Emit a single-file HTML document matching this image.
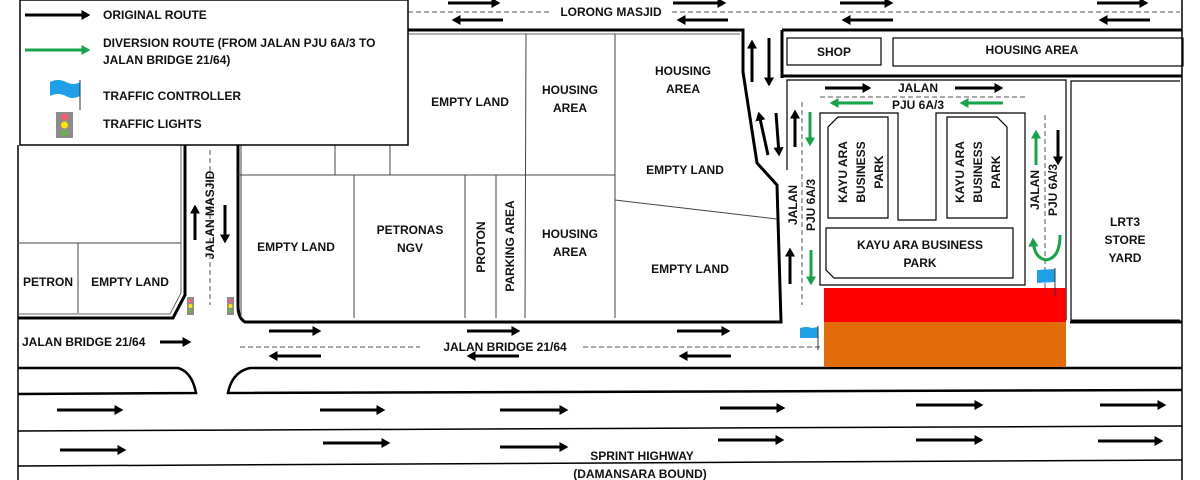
<!DOCTYPE html>
<html><head><meta charset="utf-8"><style>
html,body{margin:0;padding:0;background:#fff;}
svg{display:block;}
text{font-family:"Liberation Sans",sans-serif;font-weight:bold;font-size:12px;fill:#111;}
</style></head><body>
<svg width="1200" height="480" viewBox="0 0 1200 480" xmlns="http://www.w3.org/2000/svg">
<defs>
<marker id="ab" markerWidth="4" markerHeight="4" refX="2.2" refY="2" orient="auto" markerUnits="strokeWidth"><path d="M0,0.3 L3,2 L0,3.7 Z" fill="#000"/></marker>
<marker id="ag" markerWidth="4" markerHeight="4" refX="2.2" refY="2" orient="auto" markerUnits="strokeWidth"><path d="M0,0.3 L3,2 L0,3.7 Z" fill="#16a34a"/></marker>
</defs>
<g fill="none" stroke="#000">
<!-- frame -->
<line x1="18" y1="145" x2="18" y2="480" stroke-width="1.5"/>
<line x1="1182" y1="0" x2="1182" y2="480" stroke-width="1.5"/>
<!-- top road dashed -->
<line x1="408" y1="12" x2="550" y2="12" stroke-dasharray="5,3" stroke="#555"/>
<line x1="672" y1="12" x2="1180" y2="12" stroke-dasharray="5,3" stroke="#555"/>
<!-- main block -->
<path d="M408,30 L743,30 L743,72 L757,163 L777,185 L781,322 L245,322 Q238,318 238,306 L238,145" stroke-width="3"/>
<path d="M408,34 L740,34" stroke-width="1" stroke="#666"/>
<line x1="238" y1="175" x2="615" y2="175" stroke-width="1" stroke="#444"/>
<line x1="335" y1="145" x2="335" y2="175" stroke-width="1" stroke="#444"/>
<line x1="390" y1="145" x2="390" y2="175" stroke-width="1" stroke="#444"/>
<line x1="526" y1="34" x2="525" y2="318" stroke-width="1" stroke="#444"/>
<line x1="615" y1="34" x2="615" y2="318" stroke-width="1" stroke="#444"/>
<line x1="354" y1="175" x2="354" y2="318" stroke-width="1" stroke="#444"/>
<line x1="465" y1="175" x2="465" y2="318" stroke-width="1" stroke="#444"/>
<line x1="496" y1="175" x2="496" y2="318" stroke-width="1" stroke="#444"/>
<line x1="615" y1="200" x2="777" y2="219" stroke-width="1" stroke="#444"/>
<line x1="241" y1="145" x2="241" y2="318" stroke-width="1" stroke="#444"/>
<!-- left block -->
<path d="M18,318 L173,318 L185,295 L185,145" stroke-width="3"/>
<path d="M18,314 L170,314 L181,293 L181,145" stroke-width="1" stroke="#666"/>
<line x1="18" y1="243" x2="181" y2="243" stroke-width="1" stroke="#444"/>
<line x1="78" y1="243" x2="78" y2="313" stroke-width="1" stroke="#444"/>
<line x1="210" y1="150" x2="210" y2="305" stroke-dasharray="5,3" stroke="#555"/>
<!-- Jalan Bridge road -->
<line x1="781" y1="322" x2="781" y2="322"/>
<line x1="1070" y1="322" x2="1182" y2="322" stroke-width="3"/>
<line x1="240" y1="347" x2="420" y2="347" stroke-dasharray="5,3" stroke="#555"/>
<line x1="583" y1="347" x2="822" y2="347" stroke-dasharray="5,3" stroke="#555"/>
<path d="M18,368 L178,368 Q192,372 196,393 L18,394" stroke-width="2.5"/>
<path d="M1182,368 L250,368 Q232,372 228,393 L1182,390" stroke-width="2.5"/>
<line x1="18" y1="431" x2="1182" y2="426" stroke-width="1.5"/>
<line x1="18" y1="466" x2="1182" y2="460" stroke-width="1.5"/>
<!-- right side -->
<path d="M782,30 L1182,30 M782,30 L782,78 M782,76 L1182,76" stroke-width="3"/>
<rect x="787" y="38" width="94" height="27" stroke-width="1.2"/>
<rect x="893" y="38" width="290" height="28" stroke-width="1.2"/>
<path d="M787,170 L787,80 L1066,80 L1066,320" stroke-width="1.2"/>
<path d="M1071,320 L1071,81 L1180,81" stroke-width="1.2"/>
<line x1="1071" y1="320" x2="1180" y2="320" stroke-width="1"/>
<line x1="820" y1="97" x2="1025" y2="97" stroke-dasharray="5,3" stroke="#555"/>
<line x1="802" y1="102" x2="802" y2="305" stroke-dasharray="5,3" stroke="#555"/>
<line x1="1045" y1="115" x2="1045" y2="290" stroke-dasharray="5,3" stroke="#555"/>
<path d="M820,285 L820,113 L898,113 L898,220 L936,220 L936,113 L1025,113 L1025,285 Z" stroke-width="1.2"/>
<path d="M838,117 L888,117 L888,218 L828,218 L828,127 Z" stroke-width="1.2"/>
<path d="M947,117 L997,117 L1007,127 L1007,218 L947,218 Z" stroke-width="1.2"/>
<path d="M826,228 L1013,228 L1013,278 L834,278 L826,270 Z" stroke-width="1.2"/>
<!-- legend -->
<rect x="20" y="0" width="388" height="145" stroke-width="1.5" fill="#fff"/>
</g>
<!-- fills -->
<rect x="824" y="288" width="242" height="34" fill="#ff0000"/>
<rect x="824" y="322" width="242" height="45" fill="#e36c0a"/>
<!-- flags -->
<g>
<path d="M50,82 Q58,78 66,82 Q74,86 80,82 L80,96 Q72,100 66,96 Q58,92 50,96 Z" fill="#1ea0e8"/>
<line x1="80" y1="80" x2="80" y2="110" stroke="#333"/>
<path d="M800,328 Q806,326 812,328 L818,327 L818,338 L800,338 Z" fill="#1ea0e8"/>
<line x1="818" y1="326" x2="818" y2="350" stroke="#333"/>
<path d="M1037,270 L1055,269 L1055,282 L1037,283 Z" fill="#1ea0e8"/>
<line x1="1055" y1="268" x2="1055" y2="295" stroke="#333"/>
</g>
<!-- traffic lights -->
<g>
<rect x="56" y="112" width="17" height="26" fill="#8c8c8c"/><circle cx="64.5" cy="117" r="3.5" fill="#ff5a6e"/><circle cx="64.5" cy="125" r="3.5" fill="#ffe600"/><circle cx="64.5" cy="133" r="3.5" fill="#6ab04c"/>
<rect x="187" y="297" width="7" height="18" fill="#8c8c8c"/><circle cx="190.5" cy="301" r="2" fill="#ff5a6e"/><circle cx="190.5" cy="306" r="2" fill="#ffe600"/><circle cx="190.5" cy="311" r="2" fill="#6ab04c"/>
<rect x="227" y="297" width="7" height="18" fill="#8c8c8c"/><circle cx="230.5" cy="301" r="2" fill="#ff5a6e"/><circle cx="230.5" cy="306" r="2" fill="#ffe600"/><circle cx="230.5" cy="311" r="2" fill="#6ab04c"/>
</g>
<!-- black arrows -->
<g stroke="#000" stroke-width="3" marker-end="url(#ab)">
<line x1="25" y1="15" x2="88" y2="15"/>
<line x1="448" y1="3" x2="498" y2="3"/><line x1="673" y1="3" x2="724" y2="3"/><line x1="840" y1="3" x2="891" y2="3"/><line x1="1097" y1="3" x2="1146" y2="3"/>
<line x1="503" y1="20" x2="454" y2="20"/><line x1="728" y1="20" x2="679" y2="20"/><line x1="893" y1="20" x2="844" y2="20"/><line x1="1150" y1="20" x2="1101" y2="20"/>
<line x1="752" y1="82" x2="752" y2="42"/><line x1="769" y1="38" x2="769" y2="84"/>
<line x1="768" y1="155" x2="759" y2="114"/><line x1="776" y1="113" x2="779" y2="154"/>
<line x1="795" y1="147" x2="795" y2="112"/><line x1="790" y1="284" x2="790" y2="250"/>
<line x1="1058" y1="130" x2="1058" y2="163"/>
<line x1="825" y1="88" x2="869" y2="88"/><line x1="955" y1="88" x2="1001" y2="88"/>
<line x1="195" y1="240" x2="195" y2="207"/><line x1="225" y1="205" x2="225" y2="241"/>
<line x1="160" y1="342" x2="189" y2="342"/>
<line x1="269" y1="331" x2="319" y2="331"/><line x1="467" y1="331" x2="518" y2="331"/><line x1="677" y1="331" x2="728" y2="331"/>
<line x1="321" y1="356" x2="271" y2="356"/><line x1="519" y1="356" x2="469" y2="356"/><line x1="731" y1="356" x2="681" y2="356"/>
<line x1="57" y1="410" x2="121" y2="410"/><line x1="320" y1="410" x2="383" y2="410"/><line x1="500" y1="410" x2="566" y2="410"/><line x1="720" y1="408" x2="783" y2="408"/><line x1="916" y1="405" x2="981" y2="405"/><line x1="1100" y1="405" x2="1164" y2="405"/>
<line x1="60" y1="450" x2="124" y2="450"/><line x1="323" y1="443" x2="388" y2="443"/><line x1="500" y1="447" x2="566" y2="447"/><line x1="718" y1="440" x2="782" y2="440"/><line x1="916" y1="440" x2="981" y2="440"/><line x1="1098" y1="441" x2="1161" y2="441"/>
</g>
<!-- green arrows -->
<g stroke="#16a34a" stroke-width="3" marker-end="url(#ag)" fill="none">
<line x1="25" y1="50" x2="88" y2="50"/>
<line x1="873" y1="103" x2="832" y2="103"/><line x1="1003" y1="103" x2="962" y2="103"/>
<line x1="810" y1="112" x2="810" y2="144"/><line x1="811" y1="250" x2="811" y2="283"/>
<line x1="1036" y1="165" x2="1036" y2="132"/>
<path d="M1060,235 Q1060,258 1046,260 Q1034,258 1033,240"/>
</g>
<!-- legend text -->
<text x="103" y="19">ORIGINAL ROUTE</text>
<text x="103" y="47">DIVERSION ROUTE (FROM JALAN PJU 6A/3 TO</text>
<text x="103" y="64">JALAN BRIDGE 21/64)</text>
<text x="103" y="100">TRAFFIC CONTROLLER</text>
<text x="103" y="128">TRAFFIC LIGHTS</text>
<!-- map labels -->
<g text-anchor="middle">
<text x="611" y="16">LORONG MASJID</text>
<text x="470" y="106">EMPTY LAND</text>
<text x="570" y="94">HOUSING</text><text x="570" y="112">AREA</text>
<text x="683" y="75">HOUSING</text><text x="683" y="93">AREA</text>
<text x="685" y="174">EMPTY LAND</text>
<text x="296" y="251">EMPTY LAND</text>
<text x="410" y="234">PETRONAS</text><text x="410" y="252">NGV</text>
<text x="570" y="238">HOUSING</text><text x="570" y="256">AREA</text>
<text x="690" y="273">EMPTY LAND</text>
<text x="48" y="286">PETRON</text>
<text x="130" y="286">EMPTY LAND</text>
<text x="505" y="351">JALAN BRIDGE 21/64</text>
<text x="642" y="460">SPRINT HIGHWAY</text>
<text x="640" y="478">(DAMANSARA BOUND)</text>
<text x="834" y="56">SHOP</text>
<text x="1032" y="54">HOUSING AREA</text>
<text x="918" y="92">JALAN</text>
<text x="918" y="109">PJU 6A/3</text>
<text x="920" y="249">KAYU ARA BUSINESS</text>
<text x="920" y="267">PARK</text>
<text x="1125" y="226">LRT3</text><text x="1125" y="244">STORE</text><text x="1125" y="262">YARD</text>
<text transform="translate(214,215) rotate(-90)">JALAN MASJID</text>
<text transform="translate(485,247) rotate(-90)">PROTON</text>
<text transform="translate(514,246) rotate(-90)">PARKING AREA</text>
<text transform="translate(797,205) rotate(-90)">JALAN</text>
<text transform="translate(815,205) rotate(-90)">PJU 6A/3</text>
<text transform="translate(1039,190) rotate(-90)">JALAN</text>
<text transform="translate(1057,190) rotate(-90)">PJU 6A/3</text>
<text transform="translate(847,172) rotate(-90)">KAYU ARA</text>
<text transform="translate(865,172) rotate(-90)">BUSINESS</text>
<text transform="translate(883,172) rotate(-90)">PARK</text>
<text transform="translate(964,172) rotate(-90)">KAYU ARA</text>
<text transform="translate(982,172) rotate(-90)">BUSINESS</text>
<text transform="translate(1000,172) rotate(-90)">PARK</text>
</g>
<text x="22" y="346">JALAN BRIDGE 21/64</text>
</svg>
</body></html>
